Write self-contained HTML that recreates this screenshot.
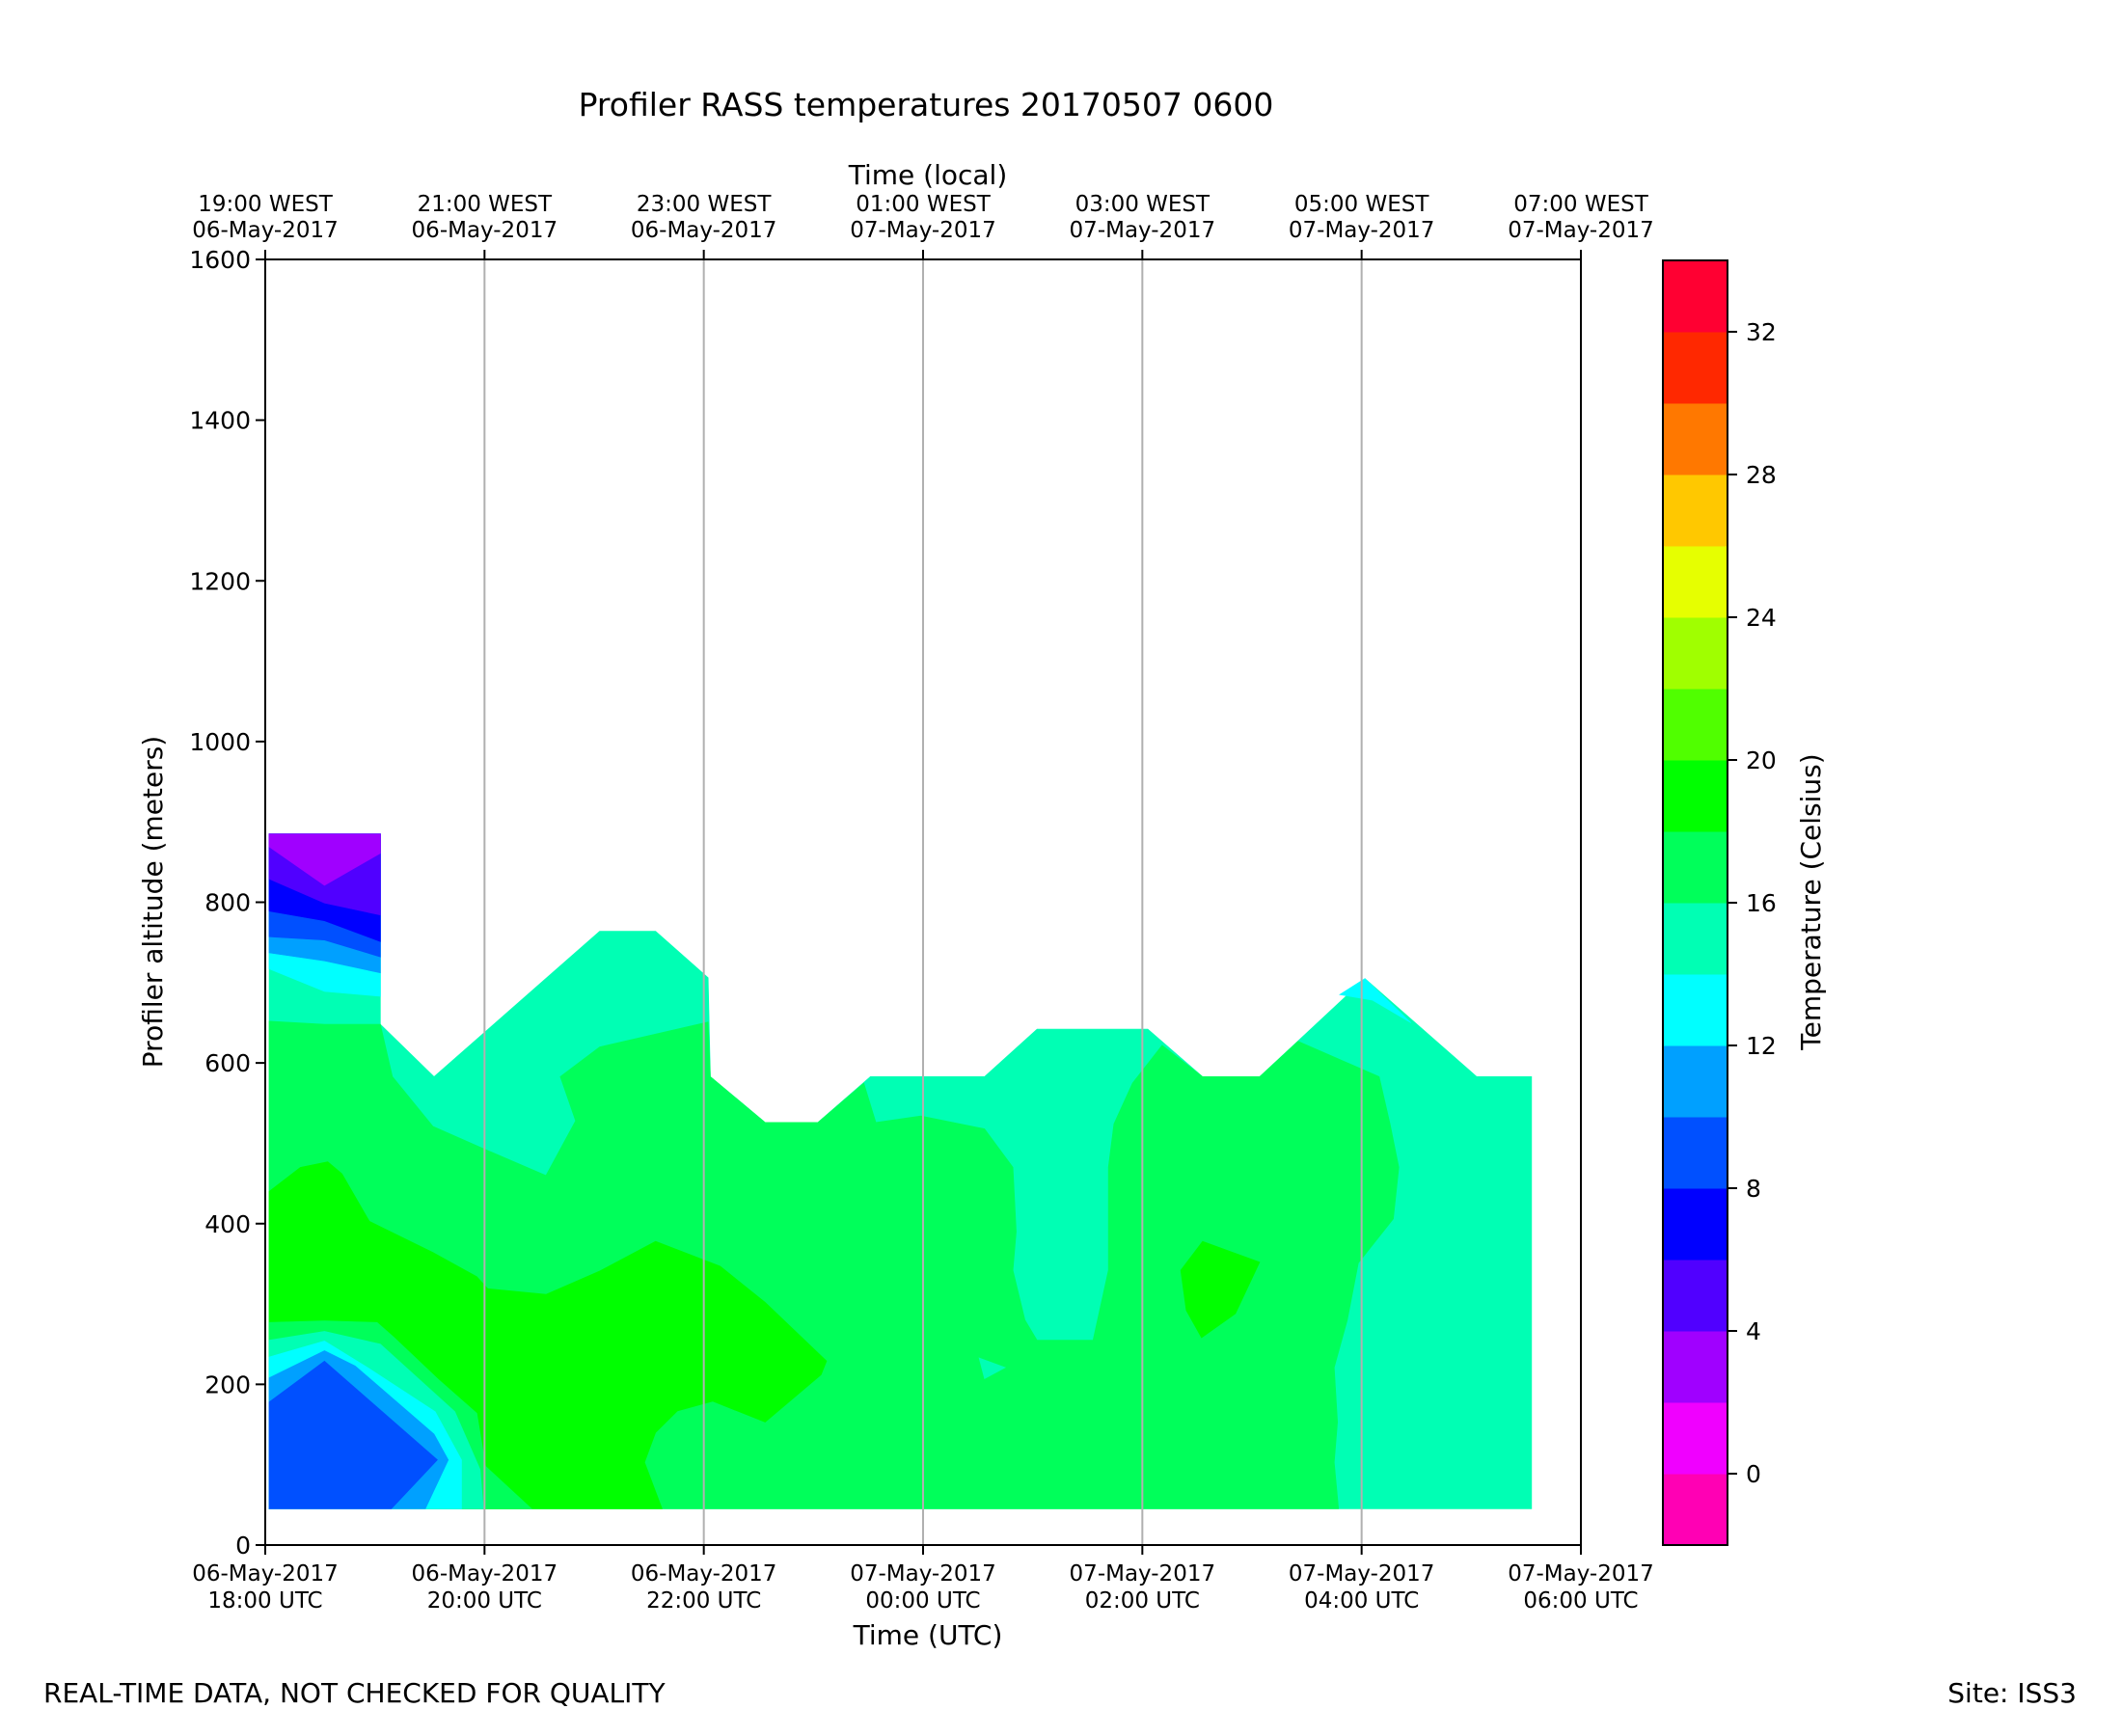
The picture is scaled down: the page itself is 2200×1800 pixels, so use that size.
<!DOCTYPE html>
<html><head><meta charset="utf-8"><style>
html,body{margin:0;padding:0;background:#fff;}
svg{display:block;font-family:"DejaVu Sans","Liberation Sans",sans-serif;}
</style></head><body>
<svg id="chart" width="2200" height="1800" viewBox="0 0 2200 1800" xmlns="http://www.w3.org/2000/svg">
<text x="960" y="120" font-size="33" text-anchor="middle">Profiler RASS temperatures 20170507 0600</text>
<g id="plot"></g>
<g id="axes"></g>
<g id="cbar"></g>
<text x="962" y="191" font-size="28" text-anchor="middle">Time (local)</text>
<text x="962" y="1705" font-size="28" text-anchor="middle">Time (UTC)</text>
<text transform="translate(168,935) rotate(-90)" font-size="28" text-anchor="middle">Profiler altitude (meters)</text>
<text transform="translate(1887,935) rotate(-90)" font-size="28" text-anchor="middle">Temperature (Celsius)</text>
<text x="45" y="1765" font-size="28">REAL-TIME DATA, NOT CHECKED FOR QUALITY</text>
<text x="2153" y="1765" font-size="28" text-anchor="end">Site: ISS3</text>
</svg>
<script>
// ---- data ----
const levels = [-2,0,2,4,6,8,10,12,14,16,18,20,22,24,26,28,30,32,34];
const levelColors = ["#ff00b4","#f000ff","#a000ff","#5000ff","#0000ff","#0050ff","#00a0ff","#00ffff","#00ffb4","#00ff5a","#00ff00","#50ff00","#a0ff00","#e6ff00","#ffc800","#ff7800","#ff2800","#ff0032"];
const cbarTicks = [0,4,8,12,16,20,24,28,32];
const yTicks = [0,200,400,600,800,1000,1200,1400,1600];
const xTickHours = [0,2,4,6,8,10,12];
const utcLabels1 = ["06-May-2017","06-May-2017","06-May-2017","07-May-2017","07-May-2017","07-May-2017","07-May-2017"];
const utcLabels2 = ["18:00 UTC","20:00 UTC","22:00 UTC","00:00 UTC","02:00 UTC","04:00 UTC","06:00 UTC"];
const localLabels1 = ["19:00 WEST","21:00 WEST","23:00 WEST","01:00 WEST","03:00 WEST","05:00 WEST","07:00 WEST"];
const localLabels2 = ["06-May-2017","06-May-2017","06-May-2017","07-May-2017","07-May-2017","07-May-2017","07-May-2017"];
// contour regions: [hours since 18 UTC, altitude m]
const envelope14 = [[0.035,885],[1.05,885],[1.05,648],[1.54,583],[3.05,764],[3.56,764],[4.04,706],[4.06,583],[4.56,526],[5.04,526],[5.52,583],[6.56,583],[7.04,642],[8.05,642],[8.55,583],[9.07,583],[10.03,705],[11.05,583],[11.55,583],[11.55,45],[0.035,45]];
const cyanTop12 = [[9.8,685],[10.03,705],[10.45,650],[10.1,678]];
const col12 = [[0.035,717],[0.54,689],[1.05,683],[1.05,885],[0.035,885]];
const col10 = [[0.035,737],[0.54,727],[1.05,712],[1.05,885],[0.035,885]];
const col8 = [[0.035,757],[0.54,753],[1.05,732],[1.05,885],[0.035,885]];
const col6 = [[0.035,789],[0.54,777],[1.05,751],[1.05,885],[0.035,885]];
const col4 = [[0.035,829],[0.54,799],[1.05,784],[1.05,885],[0.035,885]];
const col2 = [[0.035,869],[0.54,821],[1.05,861],[1.05,885],[0.035,885]];
const green16 = [[0.035,652],[0.54,648],[1.05,648],[1.16,583],[1.53,521],[2.03,491],[2.56,460],[2.83,528],[2.69,583],[3.05,620],[4.04,651],[4.06,583],[4.56,526],[5.04,526],[5.46,575],[5.57,526],[5.98,534],[6.56,518],[6.82,470],[6.85,390],[6.82,342],[6.93,280],[7.04,255],[7.55,255],[7.69,342],[7.69,470],[7.74,524],[7.91,575],[8.18,622],[8.55,583],[9.07,583],[9.42,627],[10.16,583],[10.26,524],[10.34,470],[10.29,406],[9.97,351],[9.87,280],[9.75,221],[9.78,153],[9.75,103],[9.79,45],[0.035,45]];
const mintIsland14 = [[6.51,233],[6.75,221],[6.56,207]];
const warm18 = [[0.035,440],[0.32,470],[0.57,477],[0.70,462],[0.95,403],[1.53,364],[1.93,334],[2.03,319],[2.56,312],[3.05,341],[3.56,378],[4.15,347],[4.56,302],[5.12,229],[5.07,212],[4.56,153],[4.08,179],[3.76,167],[3.56,140],[3.46,103],[3.62,45],[0.035,45]];
const warmIsland18 = [[8.35,342],[8.55,378],[9.07,352],[8.85,288],[8.54,258],[8.40,292]];
const blob16 = [[0.035,277],[0.54,279],[1.02,277],[1.17,259],[1.58,206],[1.93,164],[2.01,98],[2.43,45],[0.035,45]];
const blob14 = [[0.035,255],[0.54,266],[1.05,250],[1.73,166],[1.96,94],[1.99,45],[0.035,45]];
const blob12 = [[0.035,234],[0.54,254],[0.91,223],[1.55,166],[1.79,106],[1.79,45],[0.035,45]];
const blob10 = [[0.035,208],[0.54,242],[0.82,223],[1.54,138],[1.67,106],[1.46,45],[0.035,45]];
const blob8 = [[0.035,178],[0.54,229],[1.57,106],[1.15,45],[0.035,45]];

// ---- scales ----
const X0=275, X1=1639, Y0=1602, Y1=269;
const xs = h => X0 + h*(X1-X0)/12;
const ys = m => Y0 - m*(Y0-Y1)/1600;
const NS="http://www.w3.org/2000/svg";
const plot=document.getElementById('plot'), axes=document.getElementById('axes'), cbar=document.getElementById('cbar');
function mk(tag, attrs, parent){const e=document.createElementNS(NS,tag);for(const k in attrs)e.setAttribute(k,attrs[k]);parent.appendChild(e);return e;}

const regions = [
 [envelope14,8,'region-14-16'],[cyanTop12,7,'region-12-14-top'],
 [col12,7,'column-12-14'],[col10,6,'column-10-12'],[col8,5,'column-8-10'],[col6,4,'column-6-8'],[col4,3,'column-4-6'],[col2,2,'column-2-4'],
 [green16,9,'region-16-18'],[mintIsland14,8,'island-14-16'],[warm18,10,'region-18-20'],[warmIsland18,10,'island-18-20'],
 [blob16,9,'blob-16-18'],[blob14,8,'blob-14-16'],[blob12,7,'blob-12-14'],[blob10,6,'blob-10-12'],[blob8,5,'blob-8-10']
];
regions.forEach(r=>{
  const p=mk('polygon',{points:r[0].map(d=>xs(d[0]).toFixed(1)+','+ys(d[1]).toFixed(1)).join(' '),fill:levelColors[r[1]],stroke:levelColors[r[1]],'stroke-width':'0.6'},plot);
  
  
});

xTickHours.slice(1,-1).forEach(h=>{
  const g=mk('line',{x1:xs(h),x2:xs(h),y1:Y1,y2:Y0,stroke:'#b0b0b0','stroke-width':2},axes);
  
  
});
const fr=mk('rect',{x:X0,y:Y1,width:X1-X0,height:Y0-Y1,fill:'none',stroke:'#000','stroke-width':2},axes);


xTickHours.forEach((h,i)=>{
  const x=xs(h);
  mk('line',{x1:x,x2:x,y1:Y0,y2:Y0+10,stroke:'#000','stroke-width':2},axes);
  mk('line',{x1:x,x2:x,y1:Y1,y2:Y1-10,stroke:'#000','stroke-width':2},axes);
  const t=mk('text',{x:x,y:1639,'font-size':23,'text-anchor':'middle'},axes); t.textContent=utcLabels1[i];
  
  
  const t2=mk('text',{x:x,y:1667,'font-size':23,'text-anchor':'middle'},axes); t2.textContent=utcLabels2[i];
  
  
  const t3=mk('text',{x:x,y:219,'font-size':23,'text-anchor':'middle'},axes); t3.textContent=localLabels1[i];
  
  
  const t4=mk('text',{x:x,y:246,'font-size':23,'text-anchor':'middle'},axes); t4.textContent=localLabels2[i];
  
  
});
yTicks.forEach(v=>{
  const y=ys(v);
  mk('line',{x1:X0-10,x2:X0,y1:y,y2:y,stroke:'#000','stroke-width':2},axes);
  const t=mk('text',{x:X0-15,y:y+9,'font-size':25,'text-anchor':'end'},axes); t.textContent=v;
  
  
});
const CB0=1724, CB1=1791, CT=270, CBB=1602;
const cy = v => CBB - (v-levels[0])*(CBB-CT)/(levels[levels.length-1]-levels[0]);
levelColors.forEach((c,i)=>{
  const r=mk('rect',{x:CB0,y:cy(levels[i+1]),width:CB1-CB0,height:cy(levels[i])-cy(levels[i+1])+0.5,fill:c},cbar);
  
  
});
mk('rect',{x:CB0,y:CT,width:CB1-CB0,height:CBB-CT,fill:'none',stroke:'#000','stroke-width':2},cbar);
cbarTicks.forEach(v=>{
  const y=cy(v);
  mk('line',{x1:CB1,x2:CB1+10,y1:y,y2:y,stroke:'#000','stroke-width':2},cbar);
  const t=mk('text',{x:CB1+19,y:y+9,'font-size':25},cbar); t.textContent=v;
  
  
});
</script>
</body></html>
